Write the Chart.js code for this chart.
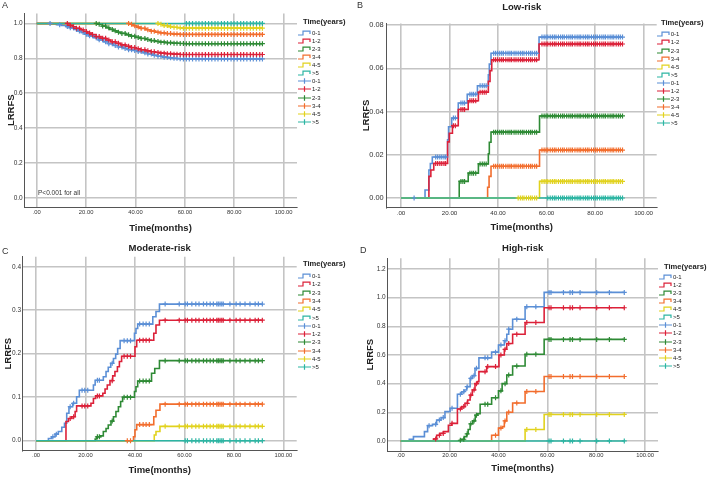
<!DOCTYPE html>
<html>
<head>
<meta charset="utf-8">
<script src="https://cdn.jsdelivr.net/npm/chart.js@4.4.1/dist/chart.umd.min.js"></script>
<style>
  body { margin: 0; width: 709px; height: 477px; background: #fff; position: relative; overflow: hidden; font-family: "Liberation Sans", Arial, sans-serif; }
  .panel { position: absolute; }
  .tag { position: absolute; font-size: 9px; color: #333; }
  .note { position: absolute; font-size: 6.5px; color: #333; white-space: nowrap; }
  .legend { position: absolute; top: 0; color: #222; }
  .legend .ttl { position: absolute; font-weight: bold; font-size: 7.6px; white-space: nowrap; }
  .legend .row { position: absolute; left: 0; height: 8px; display: flex; align-items: center; font-size: 6px; white-space: nowrap; }
  .legend svg { display: block; margin-right: 0.5px; }
</style>
</head>
<body>
<canvas class="panel" id="chartA" width="355" height="235" style="left:0;top:0"></canvas>
<canvas class="panel" id="chartB" width="354" height="235" style="left:355px;top:0"></canvas>
<canvas class="panel" id="chartC" width="355" height="242" style="left:0;top:235px"></canvas>
<canvas class="panel" id="chartD" width="354" height="242" style="left:355px;top:235px"></canvas>
<div class="tag" style="left:2px;top:0">A</div>
<div class="tag" style="left:357px;top:0">B</div>
<div class="tag" style="left:2px;top:246px">C</div>
<div class="tag" style="left:360px;top:245px">D</div>
<div class="note" style="left:38px;top:189px">P&lt;0.001 for all</div>
<script>
const groups = ["0-1", "1-2", "2-3", "3-4", "4-5", ">5"];
const groupStart = [0, 12, 24, 36, 48, 60];
const groupColors = ["#5b8fd6", "#dc2139", "#2e8a35", "#f26d2d", "#e1d21d", "#2cb5a3"];
const xTicks = [0, 20, 40, 60, 80, 100];

// A: all patients (survival), [months, LRRFS]
const allCurve01 = [[0, 1], [6, 0.997], [8, 0.993], [10, 0.988], [12, 0.982], [13.5, 0.975], [15, 0.966], [16.5, 0.957], [18, 0.948], [19.5, 0.938], [21, 0.929], [23, 0.918], [25, 0.906], [27, 0.895], [29, 0.884], [31, 0.874], [33, 0.865], [35, 0.857], [37, 0.85], [39, 0.845], [41, 0.839], [43, 0.832], [45, 0.825], [47, 0.818], [49, 0.812], [51, 0.807], [53, 0.803], [55, 0.8], [57, 0.798], [59, 0.797], [91.5, 0.797]];
const allCurve12 = [[0, 1], [12, 1], [13, 0.99], [14.5, 0.981], [16, 0.972], [17.5, 0.963], [19, 0.954], [20.5, 0.945], [22, 0.936], [24, 0.925], [26, 0.915], [28, 0.905], [30, 0.895], [32, 0.886], [34, 0.877], [36, 0.869], [38, 0.862], [40, 0.855], [42, 0.849], [44, 0.843], [46, 0.838], [48, 0.834], [50, 0.83], [52, 0.827], [55, 0.824], [58, 0.822], [91.5, 0.822]];
const allCurve23 = [[0, 1], [24, 1], [25, 0.995], [26.5, 0.985], [28, 0.975], [29.5, 0.966], [31, 0.958], [32.5, 0.95], [34, 0.943], [36, 0.935], [38, 0.927], [40, 0.92], [42, 0.914], [44, 0.908], [46, 0.902], [48, 0.897], [50, 0.893], [52, 0.89], [55, 0.887], [58, 0.885], [60, 0.884], [91.5, 0.884]];
const allCurve34 = [[0, 1], [36, 1], [37.5, 0.995], [39, 0.987], [40.5, 0.979], [42, 0.972], [44, 0.964], [46, 0.956], [48, 0.95], [50, 0.946], [52, 0.942], [55, 0.939], [58, 0.937], [91.5, 0.937]];
const allCurve45 = [[0, 1], [48, 1], [49.5, 0.995], [51, 0.988], [53, 0.982], [55, 0.978], [57, 0.975], [59, 0.973], [91.5, 0.973]];
const allCurve5 = [[0, 1], [91.5, 1]];
const allCensor = [5.4, 9.3, 12.4, 13.6, 14.9, 16.1, 17.3, 18.8, 20.1, 21.4, 22.6, 24.1, 25.3, 26.7, 27.9, 29.2, 30.6, 31.8, 33.1, 34.5, 35.8, 37.2, 38.4, 39.7, 41.1, 42.3, 43.8, 45, 46.4, 47.6, 49.1, 50.3, 51.6, 52.9, 54.2, 55.6, 56.8, 58.1, 59.4, 60.6, 61.8, 63.1, 64.5, 65.7, 67, 68.3, 69.6, 70.9, 72.2, 73.4, 74.8, 76, 77.3, 78.7, 79.9, 81.2, 82.6, 83.8, 85.1, 86.5, 87.7, 89, 90.3, 91.4];
const allYTicks = [0, 0.2, 0.4, 0.6, 0.8, 1.0];

// B: low-risk (cumulative)
const lowCurve01 = [[0, 0], [9.9, 0.0037], [11.5, 0.013], [12.1, 0.016], [12.9, 0.019], [19.2, 0.027], [19.6, 0.033], [20.9, 0.037], [23.6, 0.044], [27.3, 0.048], [31.5, 0.052], [36, 0.057], [36.4, 0.062], [37.1, 0.067], [56.9, 0.0745], [91.5, 0.0745]];
const lowCurve12 = [[0, 0], [11.5, 0.01], [12.3, 0.013], [13.5, 0.016], [19.2, 0.026], [19.9, 0.03], [21.2, 0.0335], [23.6, 0.041], [27.7, 0.045], [31.9, 0.049], [36, 0.054], [36.7, 0.059], [37.4, 0.064], [56.9, 0.0713], [91.5, 0.0713]];
const lowCurve23 = [[0, 0], [24, 0.0077], [27.7, 0.0115], [31.9, 0.0158], [36, 0.0205], [36.4, 0.0258], [37.1, 0.0305], [57.1, 0.038], [91.5, 0.038]];
const lowCurve34 = [[0, 0], [35.7, 0.005], [36.3, 0.01], [37.1, 0.0147], [57.1, 0.0222], [91.5, 0.0222]];
const lowCurve45 = [[0, 0], [57.1, 0.0077], [91.5, 0.0077]];
const lowCurve5 = [[0, 0], [91.5, 0]];
const lowCensor = [5.4, 14.3, 15.1, 16, 16.8, 17.7, 18.4, 21.6, 22.4, 24.7, 25.5, 26.2, 28.4, 29.2, 29.9, 30.8, 32.6, 33.5, 34.3, 35.1, 38.2, 39, 39.8, 40.7, 41.5, 42.2, 43.2, 44.1, 44.9, 45.6, 46.6, 47.4, 48.3, 49.2, 50, 50.7, 51.7, 52.6, 53.4, 54.1, 55.1, 55.9, 58.1, 59, 59.8, 60.5, 61.5, 62.4, 63.2, 63.9, 64.9, 65.8, 66.6, 67.3, 68.3, 69.2, 70, 70.7, 71.7, 72.6, 73.4, 74.1, 75.1, 76, 76.8, 77.5, 78.5, 79.4, 80.2, 80.9, 81.9, 82.8, 83.6, 84.3, 85.3, 86.2, 87, 87.7, 88.7, 89.6, 90.4, 91.3];
const lowYTicks = [0, 0.02, 0.04, 0.06, 0.08];

// C: moderate-risk
const modCurve01 = [[0, 0], [5, 0.005], [6.3, 0.009], [7.7, 0.015], [9, 0.021], [10.4, 0.031], [11.5, 0.04], [12.4, 0.063], [13.3, 0.078], [14.8, 0.086], [16.4, 0.101], [17.5, 0.116], [23.2, 0.128], [23.9, 0.139], [27.2, 0.147], [28.3, 0.159], [29.2, 0.169], [30.2, 0.178], [31.3, 0.189], [32.2, 0.199], [33, 0.212], [34, 0.23], [39.8, 0.247], [40.4, 0.258], [41.1, 0.268], [47.2, 0.285], [48.5, 0.297], [49.9, 0.314], [91.5, 0.314]];
const modCurve12 = [[0, 0], [12.1, 0.044], [13.1, 0.051], [14.4, 0.055], [15.8, 0.067], [16.4, 0.08], [22.2, 0.086], [23.2, 0.097], [24.1, 0.103], [27, 0.109], [27.9, 0.119], [28.8, 0.128], [29.9, 0.138], [31, 0.149], [31.9, 0.159], [32.9, 0.17], [33.7, 0.182], [34.6, 0.194], [40, 0.216], [40.7, 0.231], [47.6, 0.247], [48.5, 0.266], [49.9, 0.277], [91.5, 0.277]];
const modCurve23 = [[0, 0], [23.9, 0.004], [24.5, 0.009], [25.9, 0.011], [27.2, 0.021], [28.3, 0.028], [29.2, 0.036], [30.3, 0.045], [31.3, 0.055], [32.3, 0.067], [33.3, 0.078], [34.2, 0.09], [35, 0.1], [39.8, 0.113], [40.4, 0.124], [41.1, 0.137], [46.7, 0.155], [48, 0.166], [49.9, 0.184], [91.5, 0.184]];
const modCurve34 = [[0, 0], [39.4, 0.009], [40, 0.025], [40.7, 0.037], [47.6, 0.055], [48.5, 0.07], [50.1, 0.084], [91.5, 0.084]];
const modCurve45 = [[0, 0], [47.8, 0.013], [48.5, 0.021], [50.1, 0.033], [91.5, 0.033]];
const modCurve5 = [[0, 0], [91.5, 0]];
const modCensor = [6.8, 8.2, 13.8, 15.2, 18.6, 19.7, 20.9, 24.8, 25.6, 30.8, 35.6, 36.9, 38.2, 41.9, 43.3, 44.5, 45.8, 52.2, 57.9, 60.3, 61.2, 63, 64.6, 65.9, 67.7, 69, 70.4, 71.7, 73.1, 73.7, 74.4, 75.1, 75.7, 78.4, 80.9, 82.5, 84.5, 86.5, 88.6, 89.9, 91.5];
const modYTicks = [0, 0.1, 0.2, 0.3, 0.4];

// D: high-risk
const highCurve01 = [[0, 0], [3.5, 0.012], [5.2, 0.03], [9.7, 0.065], [11, 0.107], [13, 0.116], [14.7, 0.146], [16.5, 0.163], [18.1, 0.205], [20.2, 0.228], [23.2, 0.326], [25, 0.344], [26, 0.356], [27, 0.379], [28.4, 0.437], [29.3, 0.456], [30.4, 0.507], [32, 0.58], [37.2, 0.62], [40, 0.67], [42.4, 0.7], [43.4, 0.745], [44.2, 0.78], [45.8, 0.85], [50.9, 0.937], [58.7, 1.037], [91.5, 1.037]];
const highCurve12 = [[0, 0], [13.4, 0.014], [14.7, 0.04], [16.1, 0.053], [17.5, 0.065], [19.5, 0.11], [20.9, 0.123], [23.2, 0.223], [25, 0.24], [26.3, 0.263], [27.4, 0.286], [28.4, 0.32], [29.3, 0.356], [30.4, 0.4], [31.4, 0.414], [32, 0.484], [35.2, 0.519], [40.2, 0.6], [42.4, 0.64], [43.4, 0.68], [45.8, 0.745], [50.9, 0.827], [58.7, 0.93], [91.5, 0.93]];
const highCurve23 = [[0, 0], [24.3, 0.005], [25, 0.012], [26, 0.03], [27, 0.05], [27.6, 0.08], [28.4, 0.12], [29.5, 0.14], [30.5, 0.18], [31.5, 0.19], [32.5, 0.256], [37.2, 0.302], [40, 0.35], [41.5, 0.4], [43.4, 0.46], [45.8, 0.523], [50.9, 0.605], [58.7, 0.709], [91.5, 0.709]];
const highCurve34 = [[0, 0], [37.2, 0.04], [40, 0.09], [41.6, 0.1], [42.4, 0.14], [43.4, 0.2], [45.8, 0.265], [50.9, 0.345], [58.7, 0.45], [91.5, 0.45]];
const highCurve45 = [[0, 0], [50.9, 0.08], [58.7, 0.185], [91.5, 0.185]];
const highCurve5 = [[0, 0], [91.5, 0]];
const highCensor = [11.6, 14.3, 15.8, 17.4, 21, 24.4, 25.8, 27.2, 28.7, 30, 31, 34.5, 35.6, 38.8, 41, 42.7, 44.2, 47.5, 51.6, 55.3, 60.7, 61.5, 66.6, 69.3, 70.3, 73.4, 80.2, 85.4, 91.5];
const highYTicks = [0, 0.2, 0.4, 0.6, 0.8, 1.0, 1.2];

Chart.defaults.font.family = '"Liberation Sans", Arial, sans-serif';
Chart.defaults.color = "#333";

// value of a step curve at time t
function stepValue(curve, t) {
  let v = curve[0][1];
  curve.forEach(([time, value]) => {
    if (time <= t) v = value;
  });
  return v;
}

function buildDatasets(curves, censorTimes) {
  const lines = curves.map((curve, i) => ({
    label: groups[i],
    data: curve.map(([x, y]) => ({ x, y })),
    borderColor: groupColors[i],
    borderWidth: 1.6,
    stepped: true,
    pointRadius: 0,
    fill: false,
    order: 20 - i,
  }));
  const marks = curves.map((curve, i) => ({
    label: groups[i],
    data: censorTimes
      .filter((t) => t >= groupStart[i] && t <= curve[curve.length - 1][0])
      .map((t) => ({ x: t, y: stepValue(curve, t) })),
    showLine: false,
    pointStyle: "cross",
    pointRadius: 2.5,
    borderColor: groupColors[i],
    pointBorderWidth: 1.2,
    order: 10 - i,
  }));
  return lines.concat(marks);
}

function makeChart(id, cfg) {
  const gridStyle = { color: "#c4c4c4", lineWidth: 1.6, drawTicks: false };
  const borderStyle = { display: true, color: "#555", width: 1 };
  return new Chart(document.getElementById(id), {
    type: "line",
    data: { datasets: buildDatasets(cfg.curves, cfg.censor) },
    options: {
      responsive: false,
      animation: false,
      devicePixelRatio: 1,
      events: [],
      layout: { padding: { top: cfg.padTop, right: cfg.padRight, left: 0, bottom: 0 } },
      plugins: {
        legend: { display: false },
        tooltip: { enabled: false },
        title: {
          display: !!cfg.title,
          text: cfg.title,
          fullSize: false,
          color: "#222",
          font: { size: 9.5, weight: "bold" },
          padding: cfg.titlePad,
        },
      },
      scales: {
        x: {
          type: "linear",
          min: cfg.xMin,
          max: cfg.xMax,
          afterBuildTicks: (s) => { s.ticks = xTicks.map((v) => ({ value: v })); },
          afterFit: (s) => { s.height = cfg.xHeight; },
          ticks: {
            autoSkip: false,
            maxRotation: 0,
            padding: cfg.xTickPad,
            font: { size: cfg.xFont },
            callback: (v) => (v === 0 ? ".00" : v.toFixed(2)),
          },
          grid: gridStyle,
          border: borderStyle,
          title: {
            display: true,
            text: "Time(months)",
            color: "#222",
            font: { size: 9.5, weight: "bold" },
            padding: { top: 0, bottom: cfg.xTitlePad },
          },
        },
        y: {
          type: "linear",
          min: cfg.yMin,
          max: cfg.yMax,
          afterBuildTicks: (s) => { s.ticks = cfg.yTicks.map((v) => ({ value: v })); },
          afterFit: (s) => { s.width = cfg.yWidth; },
          ticks: {
            autoSkip: false,
            padding: cfg.yTickPad,
            font: { size: cfg.yFont },
            callback: (v) => v.toFixed(cfg.digits),
          },
          grid: gridStyle,
          border: borderStyle,
          title: {
            display: true,
            text: "LRRFS",
            color: "#222",
            font: { size: 9.5, weight: "bold" },
            padding: { top: cfg.yTitlePad, bottom: 0 },
          },
        },
      },
    },
  });
}

// legend: step icons for curves, cross icons for censored marks
function makeLegend(left, titleLeft, titleY, firstY, gap) {
  const box = document.createElement("div");
  box.className = "legend";
  box.style.left = left + "px";
  let html = `<div class="ttl" style="left:${titleLeft - left}px;top:${titleY - 5}px">Time(years)</div>`;
  const rows = groups.map((g, i) => ["step", g, groupColors[i]])
    .concat(groups.map((g, i) => ["cross", g, groupColors[i]]));
  rows.forEach(([kind, name, color], i) => {
    const path = kind === "step" ? "M0 5H5V1.2H12V4" : "M0 3H13M6.5 0.3V5.7";
    html += `<div class="row" style="top:${firstY - 4 + i * gap}px">` +
      `<svg width="13.5" height="6"><path d="${path}" fill="none" stroke="${color}" stroke-width="1.2"/></svg>` +
      `${name.replace(">", "&gt;")}</div>`;
  });
  box.innerHTML = html;
  document.body.appendChild(box);
}

makeChart("chartA", {
  curves: [allCurve01, allCurve12, allCurve23, allCurve34, allCurve45, allCurve5],
  censor: allCensor, yTicks: allYTicks, digits: 1, xFont: 5.8, yFont: 6.5,
  xMin: -5.15, xMax: 105.4, yMin: -0.0515, yMax: 1.057,
  padTop: 13.5, padRight: 58, yWidth: 24, xHeight: 28,
  xTickPad: 1.8, yTickPad: 1.3, xTitlePad: 1.3, yTitlePad: 6,
});
makeChart("chartB", {
  curves: [lowCurve01, lowCurve12, lowCurve23, lowCurve34, lowCurve45, lowCurve5],
  censor: lowCensor, yTicks: lowYTicks, digits: 2, xFont: 6.2, yFont: 7.4, title: "Low-risk",
  titlePad: { top: 1.6, bottom: 10.5 },
  xMin: -5.9, xMax: 105.4, yMin: -0.0043, yMax: 0.0808,
  padTop: 0, padRight: 52.3, yWidth: 31.7, xHeight: 27.7,
  xTickPad: 2.3, yTickPad: 3, xTitlePad: 1.6, yTitlePad: 6,
});
makeChart("chartC", {
  curves: [modCurve01, modCurve12, modCurve23, modCurve34, modCurve45, modCurve5],
  censor: modCensor, yTicks: modYTicks, digits: 1, xFont: 5.8, yFont: 6.5, title: "Moderate-risk",
  titlePad: { top: 7.6, bottom: 2.7 },
  xMin: -5.4, xMax: 105.4, yMin: -0.023, yMax: 0.423,
  padTop: 0, padRight: 58.3, yWidth: 22.7, xHeight: 26.3,
  xTickPad: 0.8, yTickPad: 1.7, xTitlePad: 1.3, yTitlePad: 2.6,
});
makeChart("chartD", {
  curves: [highCurve01, highCurve12, highCurve23, highCurve34, highCurve45, highCurve5],
  censor: highCensor, yTicks: highYTicks, digits: 1, xFont: 5.8, yFont: 6.5, title: "High-risk",
  titlePad: { top: 7.6, bottom: 4.3 },
  xMin: -5.5, xMax: 105.3, yMin: -0.07, yMax: 1.275,
  padTop: 0, padRight: 51, yWidth: 32.3, xHeight: 26,
  xTickPad: 0.5, yTickPad: 1.6, xTitlePad: 3, yTitlePad: 9.3,
});

makeLegend(298, 303, 21.7, 32.7, 8.1);
makeLegend(656.7, 661, 23.3, 34.3, 8.1);
makeLegend(298, 303, 264, 276, 8.3);
makeLegend(659, 664, 266.7, 276.7, 8.1);
</script>
</body>
</html>
